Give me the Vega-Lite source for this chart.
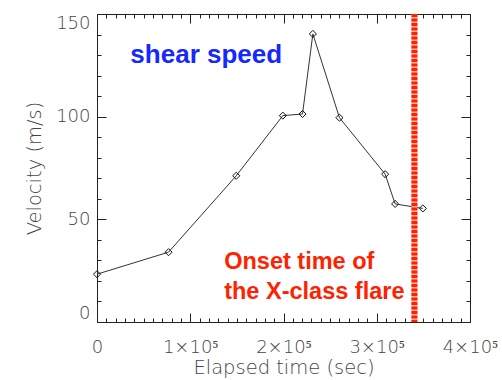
{
  "$schema": "https://vega.github.io/schema/vega-lite/v6.json",
  "autosize": {"type": "none"},
  "padding": {"left": 97, "top": 14, "right": 32, "bottom": 58},
  "width": 373,
  "height": 308,
  "background": "white",
  "config": {
    "view": {"stroke": "#222", "strokeWidth": 1},
    "axis": {
      "grid": false,
      "domainColor": "#222",
      "tickColor": "#222",
      "labelColor": "#444",
      "titleColor": "#444",
      "labelFont": "DejaVu Sans",
      "titleFont": "DejaVu Sans",
      "labelFontWeight": 200,
      "titleFontWeight": 200,
      "labelFontSize": 18,
      "titleFontSize": 19.5,
      "labelOverlap": false
    }
  },
  "datasets": {
    "speed": [
      {"t": 0, "v": 23.3},
      {"t": 76700, "v": 34},
      {"t": 149300, "v": 71.2},
      {"t": 199300, "v": 100.5},
      {"t": 220400, "v": 101.3},
      {"t": 231500, "v": 140.3},
      {"t": 260000, "v": 99.5},
      {"t": 309000, "v": 72},
      {"t": 319700, "v": 57.5},
      {"t": 349400, "v": 55.3}
    ],
    "onset": [{"t": 340400}],
    "label1": [{"t": 117150, "v": 130.1, "label": "shear speed"}],
    "label2": [
      {"t": 136400, "v": 29.3, "label": "Onset time of"},
      {"t": 136400, "v": 14.6, "label": "the X-class flare"}
    ]
  },
  "resolve": {"axis": {"x": "independent", "y": "independent"}},
  "layer": [
    {
      "data": {"name": "speed"},
      "mark": {"type": "line", "color": "#333", "strokeWidth": 1},
      "encoding": {
        "x": {
          "field": "t", "type": "quantitative",
          "scale": {"domain": [0, 400000], "nice": false},
          "title": "Elapsed time (sec)",
          "axis": {
            "orient": "bottom",
            "values": [0,10000,20000,30000,40000,50000,60000,70000,80000,90000,100000,110000,120000,130000,140000,150000,160000,170000,180000,190000,200000,210000,220000,230000,240000,250000,260000,270000,280000,290000,300000,310000,320000,330000,340000,350000,360000,370000,380000,390000,400000],
            "labelExpr": "datum.value % 100000 === 0 ? (datum.value === 0 ? '0' : (datum.value / 100000) + '×10⁵') : ''",
            "tickSize": {"condition": {"test": "datum.value % 100000 === 0", "value": -9}, "value": -4},
            "labelFlush": false,
            "labelPadding": 25,
            "titlePadding": -3
          }
        },
        "y": {
          "field": "v", "type": "quantitative",
          "scale": {"domain": [0, 150], "nice": false},
          "title": "Velocity (m/s)",
          "axis": {
            "orient": "left",
            "values": [0,10,20,30,40,50,60,70,80,90,100,110,120,130,140,150],
            "labelExpr": "datum.value % 50 === 0 ? datum.label : ''",
            "tickSize": {"condition": {"test": "datum.value % 50 === 0", "value": -9}, "value": -4},
            "labelFlush": true,
            "labelPadding": 16,
            "titlePadding": 11
          }
        }
      }
    },
    {
      "data": {"name": "speed"},
      "mark": {"type": "point", "shape": "diamond", "filled": false, "stroke": "#111", "strokeWidth": 1, "size": 50, "opacity": 1},
      "encoding": {
        "x": {
          "field": "t", "type": "quantitative",
          "axis": {
            "orient": "top",
            "values": [0,10000,20000,30000,40000,50000,60000,70000,80000,90000,100000,110000,120000,130000,140000,150000,160000,170000,180000,190000,200000,210000,220000,230000,240000,250000,260000,270000,280000,290000,300000,310000,320000,330000,340000,350000,360000,370000,380000,390000,400000],
            "labels": false,
            "title": null,
            "tickSize": {"condition": {"test": "datum.value % 100000 === 0", "value": -9}, "value": -4}
          }
        },
        "y": {
          "field": "v", "type": "quantitative",
          "axis": {
            "orient": "right",
            "values": [0,10,20,30,40,50,60,70,80,90,100,110,120,130,140,150],
            "labels": false,
            "title": null,
            "tickSize": {"condition": {"test": "datum.value % 50 === 0", "value": -9}, "value": -4}
          }
        }
      }
    },
    {
      "data": {"name": "onset"},
      "mark": {"type": "rule", "color": "#ffb3a3", "strokeWidth": 6},
      "encoding": {"x": {"field": "t", "type": "quantitative", "axis": null}}
    },
    {
      "data": {"name": "onset"},
      "mark": {"type": "rule", "color": "#ff2200", "strokeWidth": 6, "strokeDash": [3, 1.5]},
      "encoding": {"x": {"field": "t", "type": "quantitative", "axis": null}}
    },
    {
      "data": {"name": "label1"},
      "mark": {"type": "text", "font": "Liberation Sans", "fontWeight": "bold", "fontSize": 26, "color": "#1428ff", "align": "center", "baseline": "middle"},
      "encoding": {
        "x": {"field": "t", "type": "quantitative", "axis": null},
        "y": {"field": "v", "type": "quantitative", "axis": null},
        "text": {"field": "label"}
      }
    },
    {
      "data": {"name": "label2"},
      "mark": {"type": "text", "font": "Liberation Sans", "fontWeight": "bold", "fontSize": 23.5, "color": "#ff2200", "align": "left", "baseline": "middle"},
      "encoding": {
        "x": {"field": "t", "type": "quantitative", "axis": null},
        "y": {"field": "v", "type": "quantitative", "axis": null},
        "text": {"field": "label"}
      }
    }
  ]
}
